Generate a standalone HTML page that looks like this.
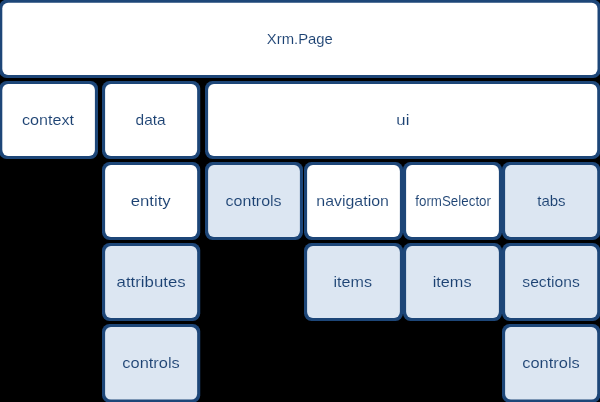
<!DOCTYPE html>
<html><head><meta charset="utf-8"><style>
html,body{margin:0;padding:0;background:#000;}
svg{display:block;will-change:transform;}
text{font-family:"Liberation Sans",sans-serif;font-size:15px;fill:#1B4172;stroke-width:0.1px;}
</style></head><body>
<svg width="600" height="402" viewBox="0 0 600 402">
<rect x="0" y="0" width="600" height="402" fill="#000"/>
<rect x="-0.80" y="-0.40" width="601.40" height="78.40" rx="7.50" fill="#1D4678"/>
<rect x="2.30" y="2.70" width="595.20" height="72.20" rx="5.80" fill="#FFFFFF"/>
<rect x="-0.80" y="81.00" width="98.80" height="78.00" rx="7.50" fill="#1D4678"/>
<rect x="2.30" y="84.10" width="92.60" height="71.80" rx="5.80" fill="#FFFFFF"/>
<rect x="102.00" y="81.00" width="98.25" height="78.00" rx="7.50" fill="#1D4678"/>
<rect x="105.10" y="84.10" width="92.05" height="71.80" rx="5.80" fill="#FFFFFF"/>
<rect x="205.00" y="81.00" width="395.30" height="78.00" rx="7.50" fill="#1D4678"/>
<rect x="208.10" y="84.10" width="389.10" height="71.80" rx="5.80" fill="#FFFFFF"/>
<rect x="102.00" y="162.00" width="98.25" height="78.00" rx="7.50" fill="#1D4678"/>
<rect x="105.10" y="165.10" width="92.05" height="71.80" rx="5.80" fill="#FFFFFF"/>
<rect x="205.00" y="162.00" width="98.00" height="78.00" rx="7.50" fill="#1D4678"/>
<rect x="208.10" y="165.10" width="91.80" height="71.80" rx="5.80" fill="#DCE6F2"/>
<rect x="304.00" y="162.00" width="99.00" height="78.00" rx="7.50" fill="#1D4678"/>
<rect x="307.10" y="165.10" width="92.80" height="71.80" rx="5.80" fill="#FFFFFF"/>
<rect x="403.00" y="162.00" width="99.00" height="78.00" rx="7.50" fill="#1D4678"/>
<rect x="406.10" y="165.10" width="92.80" height="71.80" rx="5.80" fill="#FFFFFF"/>
<rect x="502.00" y="162.00" width="98.30" height="78.00" rx="7.50" fill="#1D4678"/>
<rect x="505.10" y="165.10" width="92.10" height="71.80" rx="5.80" fill="#DCE6F2"/>
<rect x="102.00" y="243.00" width="98.25" height="78.00" rx="7.50" fill="#1D4678"/>
<rect x="105.10" y="246.10" width="92.05" height="71.80" rx="5.80" fill="#DCE6F2"/>
<rect x="304.00" y="243.00" width="99.00" height="78.00" rx="7.50" fill="#1D4678"/>
<rect x="307.10" y="246.10" width="92.80" height="71.80" rx="5.80" fill="#DCE6F2"/>
<rect x="403.00" y="243.00" width="99.00" height="78.00" rx="7.50" fill="#1D4678"/>
<rect x="406.10" y="246.10" width="92.80" height="71.80" rx="5.80" fill="#DCE6F2"/>
<rect x="502.00" y="243.00" width="98.30" height="78.00" rx="7.50" fill="#1D4678"/>
<rect x="505.10" y="246.10" width="92.10" height="71.80" rx="5.80" fill="#DCE6F2"/>
<rect x="102.00" y="324.00" width="98.25" height="78.70" rx="7.50" fill="#1D4678"/>
<rect x="105.10" y="327.10" width="92.05" height="72.50" rx="5.80" fill="#DCE6F2"/>
<rect x="502.00" y="324.00" width="98.30" height="78.70" rx="7.50" fill="#1D4678"/>
<rect x="505.10" y="327.10" width="92.10" height="72.50" rx="5.80" fill="#DCE6F2"/>
<text x="299.86" y="43.60" text-anchor="middle" stroke="#FFFFFF" textLength="66.00" lengthAdjust="spacingAndGlyphs">Xrm.Page</text>
<text x="48.07" y="124.70" text-anchor="middle" stroke="#FFFFFF" textLength="52.12" lengthAdjust="spacingAndGlyphs">context</text>
<text x="150.64" y="124.70" text-anchor="middle" stroke="#FFFFFF" textLength="30.00" lengthAdjust="spacingAndGlyphs">data</text>
<text x="402.86" y="124.70" text-anchor="middle" stroke="#FFFFFF" textLength="13.04" lengthAdjust="spacingAndGlyphs">ui</text>
<text x="150.67" y="205.80" text-anchor="middle" stroke="#FFFFFF" textLength="39.98" lengthAdjust="spacingAndGlyphs">entity</text>
<text x="253.64" y="205.80" text-anchor="middle" stroke="#DCE6F2" textLength="56.00" lengthAdjust="spacingAndGlyphs">controls</text>
<text x="352.61" y="205.80" text-anchor="middle" stroke="#FFFFFF" textLength="72.58" lengthAdjust="spacingAndGlyphs">navigation</text>
<text x="453.11" y="205.80" text-anchor="middle" stroke="#FFFFFF" textLength="75.74" lengthAdjust="spacingAndGlyphs">formSelector</text>
<text x="551.43" y="205.80" text-anchor="middle" stroke="#DCE6F2" textLength="28.36" lengthAdjust="spacingAndGlyphs">tabs</text>
<text x="151.14" y="286.90" text-anchor="middle" stroke="#DCE6F2" textLength="69.00" lengthAdjust="spacingAndGlyphs">attributes</text>
<text x="352.78" y="286.90" text-anchor="middle" stroke="#DCE6F2" textLength="38.52" lengthAdjust="spacingAndGlyphs">items</text>
<text x="452.10" y="286.90" text-anchor="middle" stroke="#DCE6F2" textLength="38.90" lengthAdjust="spacingAndGlyphs">items</text>
<text x="551.04" y="286.90" text-anchor="middle" stroke="#DCE6F2" textLength="57.46" lengthAdjust="spacingAndGlyphs">sections</text>
<text x="151.03" y="368.00" text-anchor="middle" stroke="#DCE6F2" textLength="57.46" lengthAdjust="spacingAndGlyphs">controls</text>
<text x="551.04" y="368.00" text-anchor="middle" stroke="#DCE6F2" textLength="57.46" lengthAdjust="spacingAndGlyphs">controls</text>
</svg>
</body></html>
